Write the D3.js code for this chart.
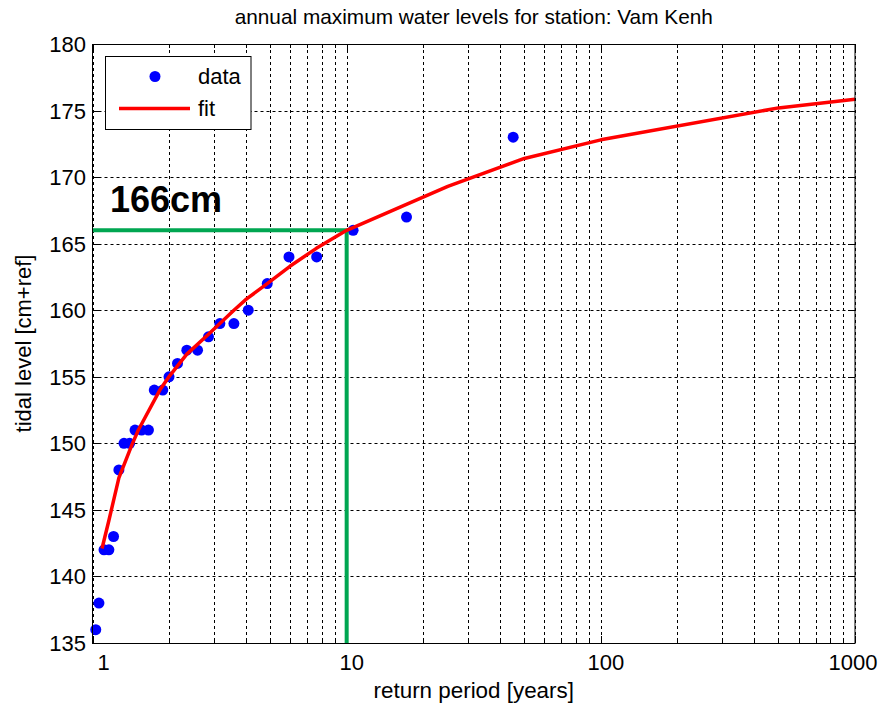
<!DOCTYPE html>
<html>
  <head>
    <meta http-equiv="Content-Type" content="text/html; charset=UTF-8" />
    <title>annual maximum water levels</title>
    <script src="https://d3js.org/d3.v7.min.js"></script>
    <style>
      body { margin: 0; background: #fff; }
      svg text { font-family: "Liberation Sans", Arial, sans-serif; fill: #000; }
    </style>
  </head>
  <body>
    <svg id="chart" width="883" height="708"></svg>
    <script type="text/javascript">
    // observed annual maxima (return period in years, level in cm)
    var returnPeriod = [1.03, 1.06, 1.11, 1.16, 1.21, 1.27, 1.33, 1.40, 1.47, 1.56, 1.66, 1.75, 1.89,
                        2.0, 2.16, 2.35, 2.59, 2.86, 3.17, 3.6, 4.1, 4.87, 5.93, 7.62, 10.6, 17.2, 45.2];
    var waterLevel = [136, 138, 142, 142, 143, 148, 150, 150, 151, 151, 151, 154, 154,
                      155, 156, 157, 157, 158, 159, 159, 160, 162, 164, 164, 166, 167, 173];

    // fitted curve
    var fitPeriod = [1.09, 1.16, 1.21, 1.27, 1.43, 1.515, 1.84, 1.99, 2.35, 2.86, 3.6, 4.04, 4.87,
                     5.98, 7.6, 10, 25, 50, 100, 500, 1000];
    var fitLevel = [142.1, 144.2, 145.7, 147.4, 149.9, 151.0, 154.0, 154.95, 156.7, 158.2, 160.0, 160.85, 162.0,
                    163.3, 164.65, 166.0, 169.3, 171.4, 172.8, 175.2, 175.85];

    var designPeriod = 10;
    var designLevel = 166;
    var designLabel = "166cm";

    var xMajorTicks = [1, 10, 100, 1000];
    var xMinorTicks = [2, 3, 4, 5, 6, 7, 8, 9, 20, 30, 40, 50, 60, 70, 80, 90,
                       200, 300, 400, 500, 600, 700, 800, 900];
    var yTicks = [135, 140, 145, 150, 155, 160, 165, 170, 175, 180];

    var plotL = 92.5, plotR = 855, plotT = 44, plotB = 643;

    var svg = d3.select("#chart");

    var x = d3.scaleLog().domain([1, 1000]).range([plotL, plotR]);
    var y = d3.scaleLinear().domain([135, 180]).range([plotB, plotT]);

    // grid (dotted)
    var grid = svg.append("g")
      .attr("stroke", "#000")
      .attr("stroke-width", 1)
      .attr("stroke-dasharray", "3,3");
    grid.selectAll(".gx")
      .data(xMajorTicks.concat(xMinorTicks))
      .enter().append("line")
      .attr("x1", function(d) { return Math.round(x(d)) + 0.5; })
      .attr("x2", function(d) { return Math.round(x(d)) + 0.5; })
      .attr("y1", plotT).attr("y2", plotB);
    grid.selectAll(".gy")
      .data(yTicks)
      .enter().append("line")
      .attr("x1", plotL).attr("x2", plotR)
      .attr("y1", function(d) { return Math.round(y(d)) + 0.5; })
      .attr("y2", function(d) { return Math.round(y(d)) + 0.5; });

    // ticks on all four sides, pointing inwards
    var ticks = svg.append("g").attr("stroke", "#000").attr("stroke-width", 1);
    xMajorTicks.concat(xMinorTicks).forEach(function(d) {
      var len = xMajorTicks.indexOf(d) >= 0 ? 7 : 4;
      var px = Math.round(x(d)) + 0.5;
      ticks.append("line").attr("x1", px).attr("x2", px).attr("y1", plotB).attr("y2", plotB - len);
      ticks.append("line").attr("x1", px).attr("x2", px).attr("y1", plotT).attr("y2", plotT + len);
    });
    yTicks.forEach(function(d) {
      var py = Math.round(y(d)) + 0.5;
      ticks.append("line").attr("x1", plotL).attr("x2", plotL + 7).attr("y1", py).attr("y2", py);
      ticks.append("line").attr("x1", plotR).attr("x2", plotR - 7).attr("y1", py).attr("y2", py);
    });

    // data points
    svg.append("g").selectAll("circle")
      .data(returnPeriod)
      .enter().append("circle")
      .attr("cx", function(d) { return x(d); })
      .attr("cy", function(d, i) { return y(waterLevel[i]); })
      .attr("r", 5.5)
      .attr("fill", "#0000ff");

    // green guide lines
    svg.append("path")
      .attr("d", "M" + plotL + "," + y(designLevel) + "H" + x(designPeriod) + "V" + plotB)
      .attr("fill", "none")
      .attr("stroke", "#00a651")
      .attr("stroke-width", 4);

    // fit
    var line = d3.line()
      .x(function(d) { return x(d); })
      .y(function(d, i) { return y(fitLevel[i]); });
    svg.append("path")
      .datum(fitPeriod)
      .attr("d", line)
      .attr("fill", "none")
      .attr("stroke", "#ff0000")
      .attr("stroke-width", 3.5)
      .attr("stroke-linejoin", "round");

    // box
    svg.append("rect")
      .attr("x", plotL).attr("y", plotT + 0.5)
      .attr("width", plotR - plotL).attr("height", plotB - plotT)
      .attr("fill", "none").attr("stroke", "#000").attr("stroke-width", 1);

    // tick labels
    svg.append("g").selectAll("text")
      .data(yTicks)
      .enter().append("text")
      .attr("x", 86)
      .attr("y", function(d) { return y(d) + 8; })
      .attr("text-anchor", "end")
      .attr("font-size", 22)
      .text(function(d) { return d; });
    svg.append("g").selectAll("text")
      .data(xMajorTicks)
      .enter().append("text")
      .attr("x", function(d, i) { return x(d) + (i == 0 ? 11 : (i == 3 ? -2 : 5)); })
      .attr("y", 670)
      .attr("text-anchor", "middle")
      .attr("font-size", 22)
      .text(function(d) { return d; });

    // labels
    svg.append("text")
      .attr("x", (plotL + plotR) / 2).attr("y", 24)
      .attr("text-anchor", "middle")
      .attr("font-size", 20.8)
      .text("annual maximum water levels for station: Vam Kenh");
    svg.append("text")
      .attr("x", (plotL + plotR) / 2).attr("y", 698)
      .attr("text-anchor", "middle")
      .attr("font-size", 22.4)
      .text("return period [years]");
    svg.append("text")
      .attr("transform", "translate(31," + ((plotT + plotB) / 2) + ") rotate(-90)")
      .attr("text-anchor", "middle")
      .attr("font-size", 22)
      .text("tidal level [cm+ref]");

    svg.append("text")
      .attr("x", 110).attr("y", 212)
      .attr("font-size", 36)
      .attr("font-weight", "bold")
      .text(designLabel);

    // legend
    var legend = svg.append("g");
    legend.append("rect")
      .attr("x", 105.5).attr("y", 56.5)
      .attr("width", 145.5).attr("height", 73)
      .attr("fill", "#fff").attr("stroke", "#000").attr("stroke-width", 1);
    legend.append("circle")
      .attr("cx", 155).attr("cy", 76.5).attr("r", 5.5).attr("fill", "#0000ff");
    legend.append("line")
      .attr("x1", 119).attr("x2", 190).attr("y1", 108.5).attr("y2", 108.5)
      .attr("stroke", "#ff0000").attr("stroke-width", 3.5);
    legend.append("text").attr("x", 198).attr("y", 84).attr("font-size", 22).text("data");
    legend.append("text").attr("x", 198).attr("y", 116).attr("font-size", 22).text("fit");
    </script>
  </body>
</html>
